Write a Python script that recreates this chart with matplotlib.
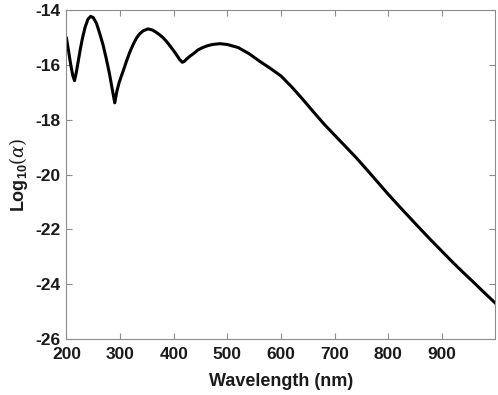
import numpy as np
import matplotlib.pyplot as plt

plt.rcParams['font.family'] = 'Liberation Sans'
plt.rcParams['axes.unicode_minus'] = False
plt.rcParams['mathtext.fontset'] = 'custom'
plt.rcParams['mathtext.bf'] = 'Liberation Sans:bold'
plt.rcParams['mathtext.it'] = 'DejaVu Serif:italic'
plt.rcParams['mathtext.rm'] = 'DejaVu Serif'

# wavelength (nm) and log10(alpha)
wavelength = [200, 204, 208, 212, 215, 218, 222, 226, 230, 235, 240, 245, 250,
              256, 262, 268, 274, 280, 285, 290, 294, 298, 302, 306, 312, 318,
              325, 331, 337, 343, 352, 360, 367, 374, 380, 387, 393, 400, 406,
              411, 416, 420, 424, 430, 437, 445, 453, 462, 472, 486, 500, 520,
              540, 560, 580, 600, 620, 640, 660, 680, 700, 720, 740, 760, 780,
              800, 820, 840, 860, 880, 900, 920, 940, 960, 980, 1000]
log_alpha = [-15.02, -15.5, -16.0, -16.4, -16.57, -16.3, -15.85, -15.4, -15.0,
             -14.6, -14.33, -14.22, -14.27, -14.48, -14.85, -15.25, -15.75,
             -16.3, -16.85, -17.38, -16.95, -16.65, -16.42, -16.2, -15.85,
             -15.53, -15.22, -15.0, -14.85, -14.75, -14.68, -14.72, -14.8,
             -14.9, -15.0, -15.15, -15.3, -15.48, -15.65, -15.8, -15.9, -15.86,
             -15.78, -15.68, -15.58, -15.45, -15.37, -15.3, -15.25, -15.22,
             -15.25, -15.36, -15.58, -15.86, -16.12, -16.4, -16.8, -17.24,
             -17.7, -18.15, -18.56, -18.97, -19.38, -19.82, -20.27, -20.72,
             -21.15, -21.57, -21.99, -22.4, -22.8, -23.2, -23.58, -23.95,
             -24.33, -24.7]

xticks = [200, 300, 400, 500, 600, 700, 800, 900]
yticks = [-26, -24, -22, -20, -18, -16, -14]

fig = plt.figure(figsize=(4.98, 3.95), dpi=100)
ax = fig.add_axes([0.1335, 0.142, 0.8605, 0.832])
ax.plot(wavelength, log_alpha, color='black', linewidth=2.2)

ax.set_xlim(200, 999)
ax.set_ylim(-26, -14)
ax.set_xticks(xticks)
ax.set_yticks(yticks)
ax.tick_params(direction='in', top=True, right=True, length=4, width=0.8,
               color='#8c8c8c', labelsize=12.5, labelcolor='#1a1a1a')
ax.tick_params(axis='x', pad=6)
ax.tick_params(axis='y', pad=4)
for lbl in ax.get_xticklabels() + ax.get_yticklabels():
    lbl.set_fontweight('bold')
for sp in ax.spines.values():
    sp.set_color('#8c8c8c')
    sp.set_linewidth(0.8)

ax.set_xlabel('Wavelength (nm)', fontsize=13, fontweight='bold', color='#1a1a1a', labelpad=8)
ax.set_ylabel(r'Log$_{\mathbf{10}}(\alpha)$', fontsize=13, fontweight='bold', color='#1a1a1a', labelpad=4)

fig.savefig('out.png', dpi=100)
